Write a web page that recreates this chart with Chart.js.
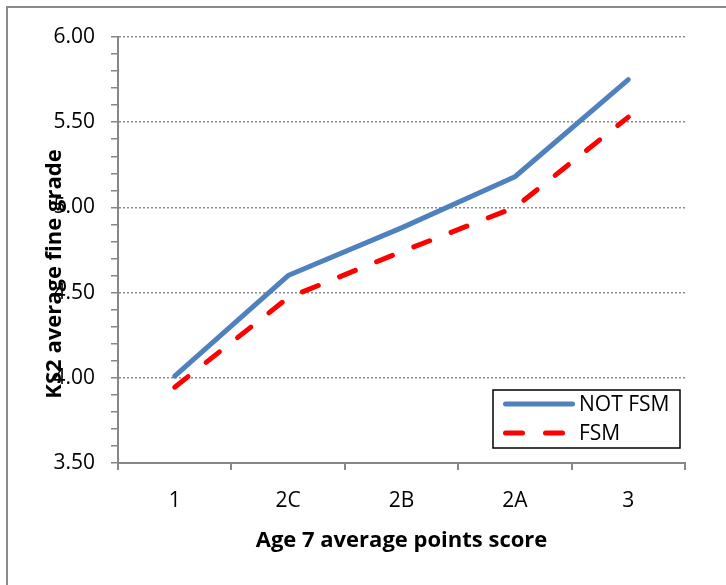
<!DOCTYPE html>
<html>
<head>
<meta charset="utf-8">
<script src="https://cdn.jsdelivr.net/npm/chart.js@4.4.0/dist/chart.umd.min.js"></script>
<style>
html,body{margin:0;padding:0;background:#fff;overflow:hidden;}
#wrap{position:relative;width:726px;height:585px;}
canvas{display:block;}
</style>
</head>
<body>
<div id="wrap"><canvas id="c" width="726" height="585"></canvas></div>
<script>
const categories = ['1', '2C', '2B', '2A', '3'];
const notFsm = [4.01, 4.60, 4.88, 5.18, 5.75];
const fsm = [3.945, 4.47, 4.74, 5.00, 5.53];
const seriesNames = ['NOT FSM', 'FSM'];
const yTickLabels = ['3.50', '4.00', '4.50', '5.00', '5.50', '6.00'];
const yMin = 3.5, yMax = 6.0, yMinorStep = 0.1;
const xTitle = 'Age 7 average points score';
const yTitle = 'KS2 average fine grade';

const FONT = "'Open Sans', 'Liberation Sans', sans-serif";
const AXIS_GRAY = '#878787';

function isMajor(v) { return Math.abs(v * 2 - Math.round(v * 2)) < 1e-6; }

const decor = {
  id: 'decor',
  beforeDraw(chart) {
    const ctx = chart.ctx;
    ctx.save();
    ctx.strokeStyle = '#8a8a8a';
    ctx.lineWidth = 2;
    ctx.beginPath();
    ctx.moveTo(7, 600); ctx.lineTo(7, 7); ctx.lineTo(740, 7);
    ctx.stroke();
    ctx.restore();
  },
  afterDraw(chart) {
    const ctx = chart.ctx;
    const ca = chart.chartArea;
    ctx.save();
    // axis titles
    ctx.fillStyle = '#000';
    ctx.font = "bold 22px " + FONT;
    ctx.textAlign = 'center';
    ctx.textBaseline = 'middle';
    ctx.fillText(xTitle, (ca.left + ca.right) / 2, 541);
    ctx.save();
    ctx.translate(55, 274);
    ctx.rotate(-Math.PI / 2);
    ctx.fillText(yTitle, 0, 0);
    ctx.restore();
    // legend
    const bx = 493, by = 390, bw = 187, bh = 58;
    ctx.fillStyle = '#fff';
    ctx.fillRect(bx, by, bw, bh);
    ctx.strokeStyle = '#000';
    ctx.lineWidth = 1.5;
    ctx.strokeRect(bx, by, bw, bh);
    const ds = chart.data.datasets;
    const rows = [404, 433];
    ds.forEach((d, i) => {
      ctx.save();
      ctx.strokeStyle = d.borderColor;
      ctx.lineWidth = d.borderWidth;
      ctx.lineCap = 'round';
      ctx.setLineDash(d.borderDash || []);
      ctx.beginPath();
      ctx.moveTo(505.5, rows[i]);
      ctx.lineTo(i === 0 ? 572.5 : 563, rows[i]);
      ctx.stroke();
      ctx.restore();
      ctx.fillStyle = '#000';
      ctx.font = "21px " + FONT;
      ctx.textAlign = 'left';
      ctx.textBaseline = 'middle';
      ctx.fillText(d.label, 579, rows[i] + 1);
    });
    ctx.restore();
  }
};

new Chart(document.getElementById('c'), {
  type: 'line',
  data: {
    labels: categories,
    datasets: [
      { label: seriesNames[0], data: notFsm, borderColor: '#4F81BD', borderWidth: 5,
        borderCapStyle: 'round', borderJoinStyle: 'round', pointRadius: 0, tension: 0, fill: false },
      { label: seriesNames[1], data: fsm, borderColor: '#FF0000', borderWidth: 5, borderDash: [17, 23],
        borderCapStyle: 'round', borderJoinStyle: 'round', pointRadius: 0, tension: 0, fill: false }
    ]
  },
  options: {
    responsive: false,
    animation: false,
    devicePixelRatio: 1,
    layout: { padding: { left: 0, right: 41, top: 37, bottom: 0 } },
    plugins: { legend: { display: false }, tooltip: { enabled: false } },
    scales: {
      x: {
        type: 'category',
        offset: true,
        afterFit(s) { s.height = 122; },
        grid: { offset: true, drawOnChartArea: false, drawTicks: true, tickLength: 7, tickColor: AXIS_GRAY, lineWidth: 2 },
        border: { display: true, color: AXIS_GRAY, width: 2 },
        ticks: { color: '#000', font: { family: FONT, size: 21 }, padding: 18, maxRotation: 0 }
      },
      y: {
        min: yMin, max: yMax,
        afterFit(s) { s.width = 118; },
        afterBuildTicks(s) {
          const t = [];
          for (let k = 0; k <= Math.round((yMax - yMin) / yMinorStep); k++) {
            t.push({ value: Math.round((yMin + k * yMinorStep) * 100) / 100 });
          }
          s.ticks = t;
        },
        grid: {
          drawTicks: true, tickLength: 7,
          color: (c) => (c.tick && isMajor(c.tick.value)) ? '#8c8c8c' : 'rgba(0,0,0,0)',
          tickColor: AXIS_GRAY,
          lineWidth: 1.5,
          tickWidth: 1.5
        },
        border: { display: true, color: AXIS_GRAY, width: 2, dash: [2, 2] },
        ticks: {
          autoSkip: false,
          color: '#000', font: { family: FONT, size: 21 }, padding: 16,
          callback: (v) => {
            if (!isMajor(v)) return '';
            const idx = Math.round((v - yMin) * 2);
            return yTickLabels[idx];
          }
        }
      }
    }
  },
  plugins: [decor]
});
</script>
</body>
</html>
